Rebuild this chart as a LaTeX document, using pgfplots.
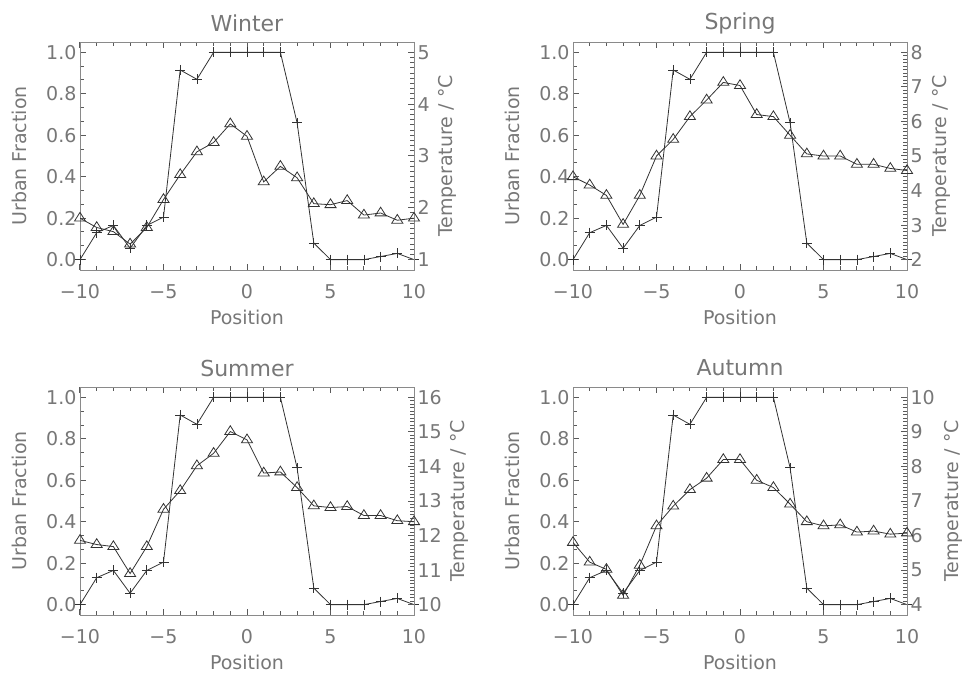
\documentclass[border=0pt]{standalone}
\usepackage{fontspec}
\setmainfont{DejaVu Sans}
\usepackage{pgfplots}
\usepackage{pgfplotstable}
\pgfplotsset{compat=1.18}

\definecolor{axisgray}{HTML}{8A8A8A}
\definecolor{tickgray}{HTML}{5A5A5A}
\definecolor{txtgray}{HTML}{777777}
\definecolor{ink}{HTML}{333333}

% position, urban fraction, temperature per season
\pgfplotstableread{
x   urban winter spring summer autumn
-10 0.000 1.80 4.40 11.86 5.80
-9  0.130 1.62 4.16 11.74 5.23
-8  0.165 1.54 3.86 11.68 5.02
-7  0.055 1.30 3.02 10.90 4.27
-6  0.165 1.62 3.86 11.68 5.14
-5  0.205 2.16 5.00 12.76 6.28
-4  0.915 2.64 5.48 13.30 6.85
-3  0.870 3.08 6.14 14.02 7.33
-2  1.000 3.26 6.62 14.38 7.66
-1  1.000 3.62 7.13 15.01 8.20
0   1.000 3.38 7.04 14.77 8.20
1   1.000 2.50 6.20 13.81 7.60
2   1.000 2.80 6.14 13.84 7.39
3   0.660 2.58 5.60 13.39 6.91
4   0.080 2.08 5.06 12.86 6.40
5   0.000 2.06 5.00 12.81 6.28
6   0.000 2.14 5.00 12.84 6.31
7   0.000 1.86 4.76 12.58 6.10
8   0.015 1.90 4.76 12.58 6.13
9   0.030 1.76 4.64 12.43 6.04
10  0.000 1.80 4.58 12.40 6.07
}\seasons

\newcommand\lblfont{\fontsize{19}{19}\selectfont}

\pgfplotsset{
  base/.style={
    scale only axis, width=334pt, height=228pt,
    xmin=-10, xmax=10,
    tick align=inside,
    axis line style={axisgray, line width=0.8pt},
    every tick/.append style={tickgray, line width=1pt},
    major tick length=6pt, minor tick length=4pt,
    tick label style={font=\lblfont, text=txtgray},
  },
  urb/.style={
    base,
    ymin=-0.05, ymax=1.05,
    ytick={0,0.2,0.4,0.6,0.8,1.0},
    yticklabels={0.0,0.2,0.4,0.6,0.8,1.0},
    minor y tick num=2,
    ytick pos=left,
    xtick={-10,-5,0,5,10},
    xticklabels={−10,−5,0,5,10},
    minor x tick num=4,
    xticklabel style={yshift=-11pt},
    xlabel={Position}, ylabel={Urban Fraction},
    every axis x label/.style={at={(axis description cs:0.5,0)}, yshift=-47pt,
      anchor=center, font=\lblfont, text=txtgray},
    every axis y label/.style={at={(axis description cs:0,0.5)}, xshift=-61pt,
      rotate=90, anchor=center, font=\lblfont, text=txtgray},
    every axis title/.style={at={(axis description cs:0.5,1)}, yshift=19pt, anchor=center,
      font=\fontsize{22}{22}\selectfont, text=txtgray},
  },
  temp/.style={
    base,
    axis x line=none, axis y line*=right,
    minor y tick num=9,
    ylabel={Temperature / °C},
    every axis y label/.style={at={(axis description cs:1,0.5)}, xshift=#1,
      rotate=90, anchor=center, font=\lblfont, text=txtgray},
  },
  urbline/.style={ink, line width=0.8pt, mark=+, mark size=5pt, mark options={solid}},
  templine/.style={ink, line width=0.8pt, mark=triangle, mark size=5.8pt, mark options={solid, xscale=1.1}},
}

\begin{document}
\begin{tikzpicture}
\useasboundingbox (0,0) rectangle (966pt,678pt);

% Winter
\begin{axis}[urb, at={(80pt,408pt)}, anchor=south west, title={Winter}]
\addplot[urbline] table[x=x, y=urban] {\seasons};
\end{axis}
\begin{axis}[temp=33pt, at={(80pt,408pt)}, anchor=south west,
  ymin=0.8, ymax=5.2, ytick={1,2,3,4,5}, yticklabels={1,2,3,4,5}]
\addplot[templine] table[x=x, y=winter] {\seasons};
\end{axis}

% Spring
\begin{axis}[urb, at={(573pt,408pt)}, anchor=south west, title={Spring}]
\addplot[urbline] table[x=x, y=urban] {\seasons};
\end{axis}
\begin{axis}[temp=34pt, at={(573pt,408pt)}, anchor=south west,
  ymin=1.7, ymax=8.3, ytick={2,3,4,5,6,7,8}, yticklabels={2,3,4,5,6,7,8}]
\addplot[templine] table[x=x, y=spring] {\seasons};
\end{axis}

% Summer
\begin{axis}[urb, at={(80pt,63pt)}, anchor=south west, title={Summer}]
\addplot[urbline] table[x=x, y=urban] {\seasons};
\end{axis}
\begin{axis}[temp=45pt, at={(80pt,63pt)}, anchor=south west,
  ymin=9.7, ymax=16.3, ytick={10,11,12,13,14,15,16}, yticklabels={10,11,12,13,14,15,16}]
\addplot[templine] table[x=x, y=summer] {\seasons};
\end{axis}

% Autumn
\begin{axis}[urb, at={(573pt,63pt)}, anchor=south west, title={Autumn}]
\addplot[urbline] table[x=x, y=urban] {\seasons};
\end{axis}
\begin{axis}[temp=46pt, at={(573pt,63pt)}, anchor=south west,
  ymin=3.7, ymax=10.3, ytick={4,5,6,7,8,9,10}, yticklabels={4,5,6,7,8,9,10}]
\addplot[templine] table[x=x, y=autumn] {\seasons};
\end{axis}
\end{tikzpicture}
\end{document}
